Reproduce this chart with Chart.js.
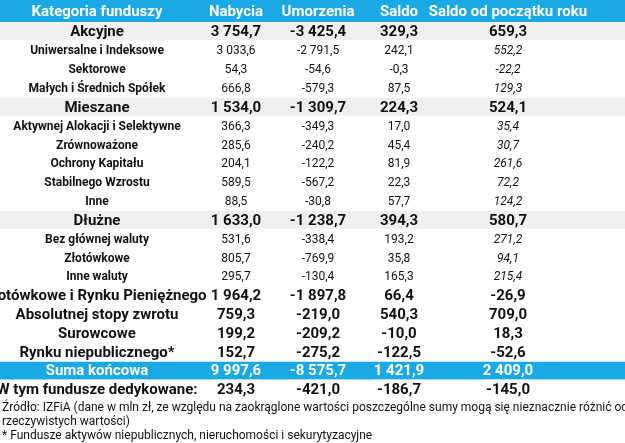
<!DOCTYPE html>
<html><head><meta charset="utf-8">
<script src="https://cdn.jsdelivr.net/npm/chart.js@4"></script>
<style>html,body{margin:0;background:#fff}#c{display:block}</style>
</head><body>
<div style="width:625px;height:443px"><canvas id="c"></canvas></div>
<script>
const headers = ['Kategoria funduszy', 'Nabycia', 'Umorzenia', 'Saldo', 'Saldo od początku roku'];
const categories = ['Akcyjne', 'Uniwersalne i Indeksowe', 'Sektorowe', 'Małych i Średnich Spółek',
  'Mieszane', 'Aktywnej Alokacji i Selektywne', 'Zrównoważone', 'Ochrony Kapitału', 'Stabilnego Wzrostu', 'Inne',
  'Dłużne', 'Bez głównej waluty', 'Złotówkowe', 'Inne waluty',
  'Gotówkowe i Rynku Pieniężnego', 'Absolutnej stopy zwrotu', 'Surowcowe', 'Rynku niepublicznego*',
  'Suma końcowa', 'W tym fundusze dedykowane:'];
const nabycia = ['3 754,7', '3 033,6', '54,3', '666,8', '1 534,0', '366,3', '285,6', '204,1', '589,5', '88,5',
  '1 633,0', '531,6', '805,7', '295,7', '1 964,2', '759,3', '199,2', '152,7', '9 997,6', '234,3'];
const umorzenia = ['-3 425,4', '-2 791,5', '-54,6', '-579,3', '-1 309,7', '-349,3', '-240,2', '-122,2', '-567,2', '-30,8',
  '-1 238,7', '-338,4', '-769,9', '-130,4', '-1 897,8', '-219,0', '-209,2', '-275,2', '-8 575,7', '-421,0'];
const saldo = ['329,3', '242,1', '-0,3', '87,5', '224,3', '17,0', '45,4', '81,9', '22,3', '57,7',
  '394,3', '193,2', '35,8', '165,3', '66,4', '540,3', '-10,0', '-122,5', '1 421,9', '-186,7'];
const saldoRok = ['659,3', '552,2', '-22,2', '129,3', '524,1', '35,4', '30,7', '261,6', '72,2', '124,2',
  '580,7', '271,2', '94,1', '215,4', '-26,9', '709,0', '18,3', '-52,6', '2 409,0', '-145,0'];
// row kind: g = main with grey band, m = main, s = sub, t = total
const kinds = ['g','s','s','s','g','s','s','s','s','s','g','s','s','s','m','m','m','m','t','m'];
const footnotes = ['Źródło: IZFiA (dane w mln zł, ze względu na zaokrąglone wartości poszczególne sumy mogą się nieznacznie różnić od',
  'rzeczywistych wartości)', '* Fundusze aktywów niepublicznych, nieruchomości i sekurytyzacyjne'];

const colX = [97, 236, 318, 399, 508];
const BLUE = '#1ba9e6';
const FONT = '"Liberation Sans Narrow", "Roboto", sans-serif';

const tablePlugin = {
  id: 'table',
  beforeDatasetsDraw(chart) {
    const c = chart.ctx, a = chart.chartArea;
    c.save();
    c.fillStyle = BLUE;
    c.fillRect(0, 0, chart.width, a.top);
    c.fillStyle = '#fff';
    c.font = 'bold 15px ' + FONT;
    c.textAlign = 'center'; c.textBaseline = 'middle';
    headers.forEach((h, i) => c.fillText(h, chart.scales.x.getPixelForValue(colX[i]), a.top / 2 + 1));
    c.restore();
  },
  afterDatasetsDraw(chart) {
    const c = chart.ctx, a = chart.chartArea, x = chart.scales.x, y = chart.scales.y;
    c.save();
    c.textAlign = 'center'; c.textBaseline = 'middle';
    categories.forEach((cat, i) => {
      const k = kinds[i];
      const py = y.getPixelForValue(i) + 1;
      const cells = [cat, nabycia[i], umorzenia[i], saldo[i], saldoRok[i]];
      cells.forEach((t, j) => {
        if (k === 's') c.font = (j === 4 ? 'italic ' : '') + (j === 0 ? 'bold 12px ' : '12px ') + FONT;
        else c.font = 'bold 15px ' + FONT;
        c.fillStyle = k === 't' ? '#fff' : '#111';
        const px = x.getPixelForValue(colX[j]);
        c.fillText(t, px, py);
        if (k === 't') {
          const w = c.measureText(t).width;
          c.fillRect(px - w / 2, py + 8, w, 1);
        }
      });
    });
    c.textAlign = 'left'; c.fillStyle = '#111';
    c.font = '12px ' + FONT;
    footnotes.forEach((f, i) => c.fillText(f, 2, a.bottom + 9 + i * 14));
    c.restore();
  }
};

new Chart(document.getElementById('c'), {
  type: 'bar',
  data: {
    labels: categories,
    datasets: [{
      data: kinds.map(k => k === 'g' || k === 't' ? [0, 625] : null),
      backgroundColor: kinds.map(k => k === 't' ? BLUE : '#efefef'),
      barPercentage: 1, categoryPercentage: 0.94
    }]
  },
  options: {
    indexAxis: 'y',
    responsive: true, maintainAspectRatio: false, animation: false,
    layout: { padding: { top: 22, bottom: 44, left: 0, right: 0 } },
    plugins: { legend: { display: false }, tooltip: { enabled: false } },
    scales: {
      x: { type: 'linear', min: 0, max: 625, display: false },
      y: { display: false }
    }
  },
  plugins: [tablePlugin]
});
</script>
</body></html>
